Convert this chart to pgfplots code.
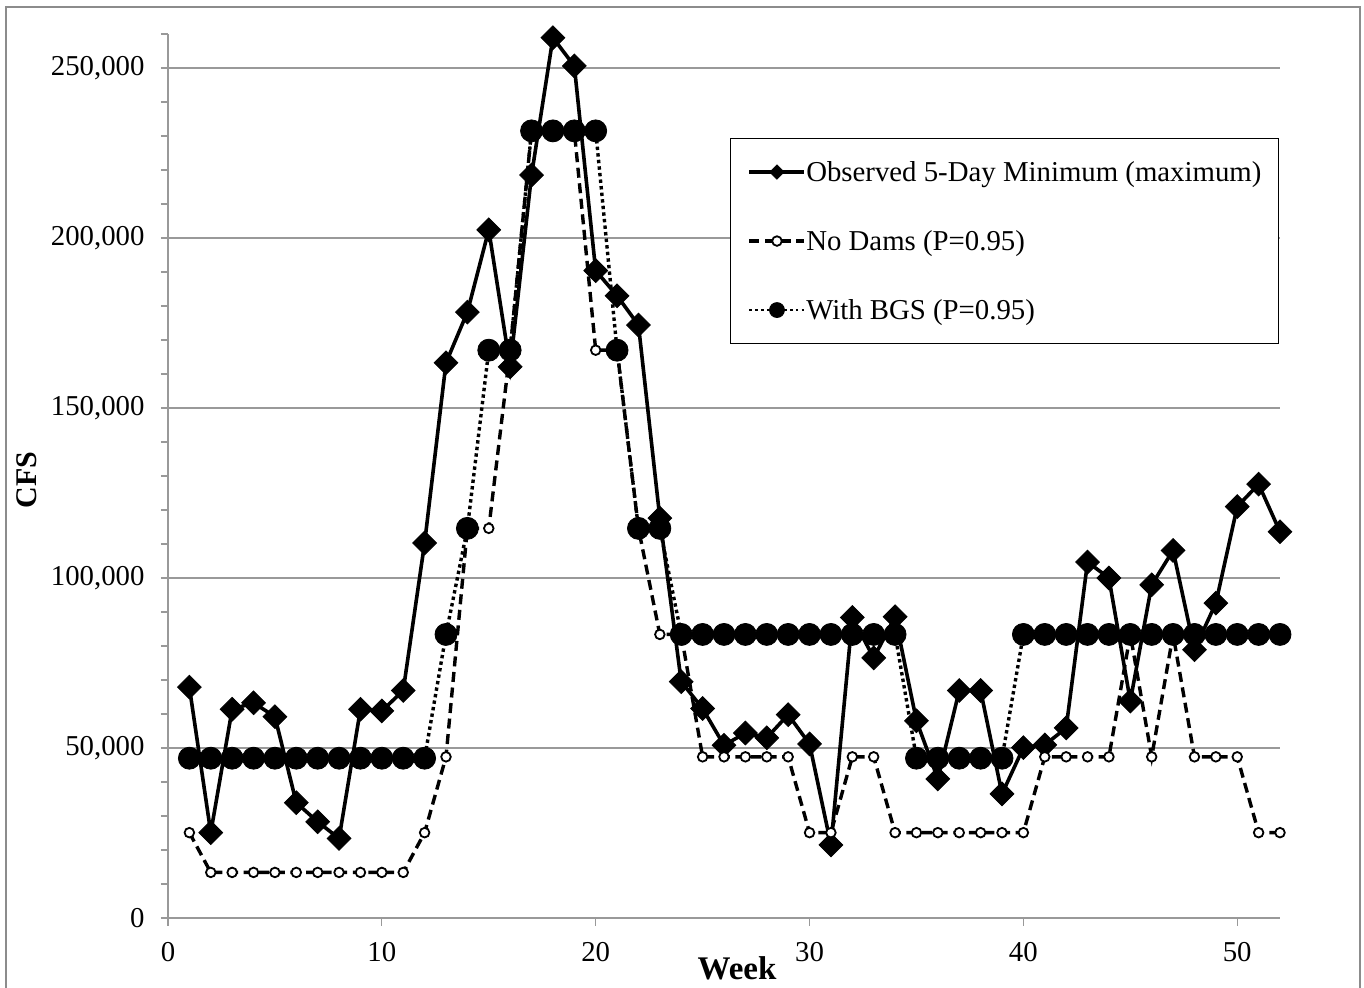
\documentclass[border=0pt]{standalone}
\usepackage{fontspec}
\setmainfont{Liberation Serif}
\usepackage{pgfplots}
\pgfplotsset{compat=1.18}
\usepackage{pgfplotstable}

\pgfplotstableread{
w v
1 67900
2 25100
3 61400
4 63300
5 59200
6 33900
7 28300
8 23400
9 61400
10 60900
11 66900
12 110300
13 163300
14 178200
15 202400
16 162100
17 218500
18 258900
19 250600
20 190400
21 183000
22 174400
23 117600
24 69500
25 61600
26 50800
27 54400
28 53000
29 59800
30 51200
31 21500
32 88400
33 76500
34 88600
35 58000
36 40900
37 66900
38 66900
39 36500
40 50100
41 50900
42 55900
43 104700
44 100000
45 63800
46 98000
47 108100
48 78900
49 92600
50 121000
51 127600
52 113600
}\observed

\pgfplotstableread{
w v
1 25100
2 13400
3 13400
4 13400
5 13400
6 13400
7 13400
8 13400
9 13400
10 13400
11 13400
12 25100
13 47400
14 114600
15 114600
16 167000
17 231500
18 231500
19 231500
20 167000
21 167000
22 114600
23 83400
24 83400
25 47400
26 47400
27 47400
28 47400
29 47400
30 25100
31 25100
32 47400
33 47400
34 25100
35 25100
36 25100
37 25100
38 25100
39 25100
40 25100
41 47400
42 47400
43 47400
44 47400
45 83400
46 47400
47 83400
48 47400
49 47400
50 47400
51 25100
52 25100
}\nodams

\pgfplotstableread{
w v
1 47000
2 47000
3 47000
4 47000
5 47000
6 47000
7 47000
8 47000
9 47000
10 47000
11 47000
12 47000
13 83400
14 114600
15 167000
16 167000
17 231500
18 231500
19 231500
20 231500
21 167000
22 114600
23 114600
24 83400
25 83400
26 83400
27 83400
28 83400
29 83400
30 83400
31 83400
32 83400
33 83400
34 83400
35 47000
36 47000
37 47000
38 47000
39 47000
40 83400
41 83400
42 83400
43 83400
44 83400
45 83400
46 83400
47 83400
48 83400
49 83400
50 83400
51 83400
52 83400
}\bgs

\begin{document}
\begin{tikzpicture}
\useasboundingbox (-84pt,-35pt) rectangle (598pt,459pt);
\draw[draw=black!45, line width=1pt] (-81pt,-45pt) rectangle (596pt,455.5pt);
\begin{axis}[
  at={(0pt,0pt)}, anchor=south west,
  scale only axis, width=556pt, height=442pt,
  xmin=0, xmax=52, ymin=0, ymax=260000,
  clip=false,
  axis x line*=bottom, axis y line*=left,
  axis line style={draw=black!40, line width=0.8pt},
  xtick={0,10,20,30,40,50},
  xticklabels={0,10,20,30,40,50},
  ytick={0,50000,100000,150000,200000,250000},
  yticklabels={0,{50,000},{100,000},{150,000},{200,000},{250,000}},
  minor ytick={0,10000,...,260000},
  ymajorgrids,
  major grid style={draw=black!40, line width=0.6pt},
  tick align=outside,
  major tick length=4pt, minor tick length=3.5pt,
  major x tick style={draw=black!40, line width=0.6pt},
  major y tick style={draw=none},
  minor y tick style={draw=black!40, line width=0.6pt},
  scaled y ticks=false,
  tick label style={font=\fontsize{14.4}{17}\selectfont},
  yticklabel style={xshift=-4.2pt},
  xticklabel style={yshift=-4.7pt},
  xlabel={Week}, ylabel={CFS},
  xlabel style={at={(axis description cs:0.5117,-0.0701)}, anchor=base, font=\fontsize{16.5}{19}\selectfont\bfseries},
  ylabel style={at={(axis description cs:-0.1187,0.4955)}, anchor=base, font=\fontsize{15}{18}\selectfont\bfseries},
  legend style={at={(rel axis cs:0.9991,0.8824)}, anchor=north east,
    draw=black, line width=0.6pt,
    font=\fontsize{14.4}{17}\selectfont,
    inner xsep=8.5pt, inner ysep=10.5pt, row sep=22pt, column sep=0pt,
    nodes={inner sep=0pt, text height=11pt, text depth=1.5pt}},
  legend cell align=left,
]
\addplot[black, line width=1.8pt, mark=square*, mark size=4.2pt,
  mark options={rotate=45, solid, fill=black, line width=0.4pt},
  legend image code/.code={\draw[mark repeat=2, mark phase=2, every mark/.append style={scale=0.6}] plot coordinates {(0pt,0pt) (13.75pt,0pt) (27.5pt,0pt)};}
] table[x=w, y=v] {\observed};
\addlegendentry{Observed 5-Day Minimum (maximum)}

\addplot[black, line width=1.7pt, dash pattern=on 5pt off 2.8pt, mark=*, mark size=2.4pt,
  mark options={solid, fill=white, line width=0.9pt},
  legend image code/.code={\draw[mark repeat=2, mark phase=2] plot coordinates {(0pt,0pt) (13.75pt,0pt) (27.5pt,0pt)};}
] table[x=w, y=v] {\nodams};
\addlegendentry{No Dams (P=0.95)}

\addplot[black, line width=1.7pt, dash pattern=on 1.7pt off 1.6pt, mark=*, mark size=5.5pt,
  mark options={solid, fill=black, line width=0.4pt},
  legend image code/.code={\draw[mark repeat=2, mark phase=2, line width=1.3pt, dash pattern=on 1.3pt off 1.6pt, every mark/.append style={scale=0.68}] plot coordinates {(0pt,0pt) (13.75pt,0pt) (27.5pt,0pt)};}
] table[x=w, y=v] {\bgs};
\addlegendentry{With BGS (P=0.95)}
\end{axis}
\end{tikzpicture}
\end{document}
